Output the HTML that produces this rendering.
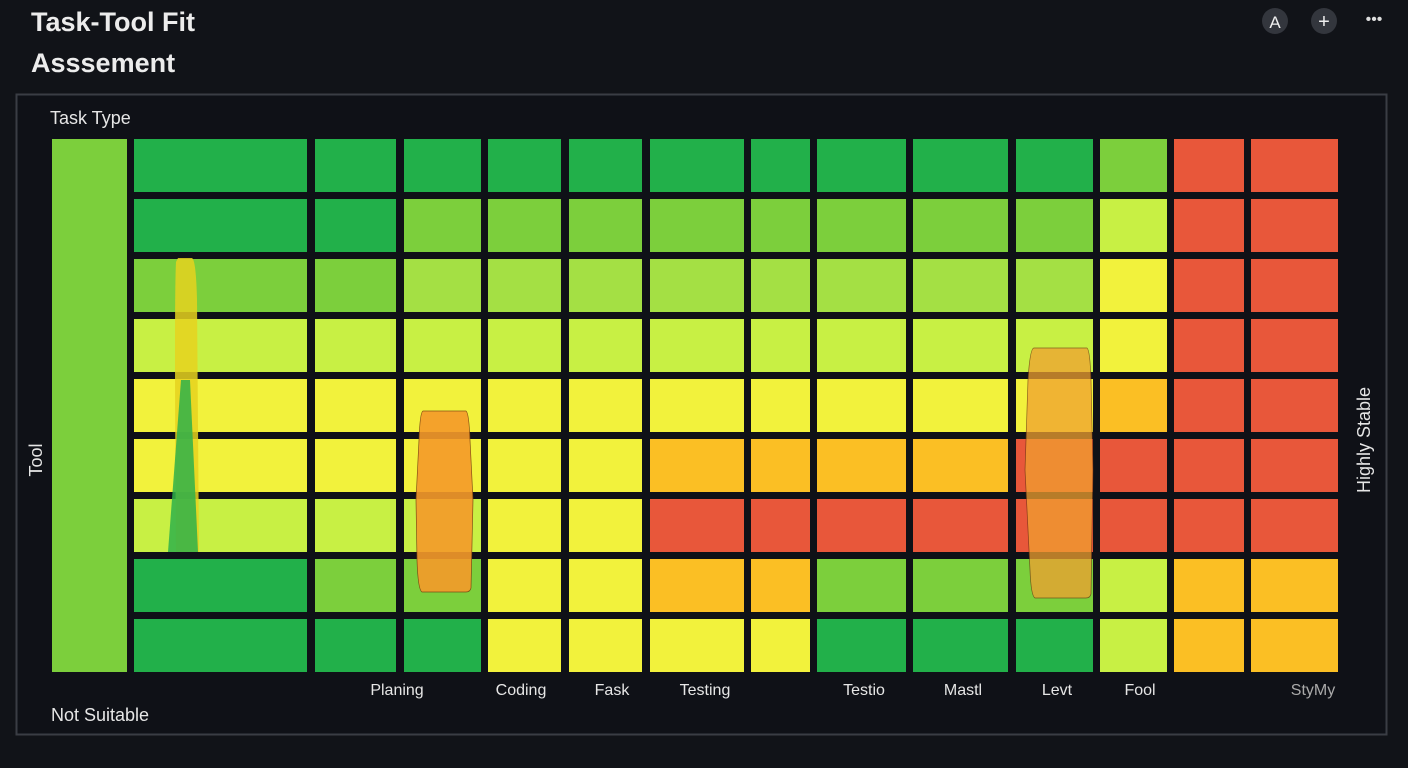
<!DOCTYPE html>
<html><head><meta charset="utf-8"><style>
html,body{margin:0;padding:0;background:#111318;width:1408px;height:768px;overflow:hidden;font-family:"Liberation Sans","DejaVu Sans",sans-serif;}
</style></head><body>
<svg width="1408" height="768" xmlns="http://www.w3.org/2000/svg">
<rect width="1408" height="768" fill="#111318"/>
<text x="31" y="31" fill="#ececec" font-size="27" font-weight="bold">Task-Tool Fit</text>
<text x="31" y="72" fill="#ececec" font-size="27" font-weight="bold">Asssement</text>
<circle cx="1275" cy="21" r="13" fill="#33363d"/><text x="1275" y="28" fill="#eee" font-size="17" text-anchor="middle">A</text>
<circle cx="1324" cy="21" r="13" fill="#33363d"/><text x="1324" y="28" fill="#eee" font-size="20" text-anchor="middle">+</text>
<text x="1374" y="24" fill="#ddd" font-size="16" text-anchor="middle">•••</text>
<rect x="16.5" y="94.5" width="1370" height="640" fill="#0f1117" stroke="#3a3d44" stroke-width="2"/>
<text x="50" y="124" fill="#e6e6e6" font-size="18">Task Type</text>
<text x="51" y="721" fill="#e6e6e6" font-size="18">Not Suitable</text>
<text transform="translate(42,460) rotate(-90)" fill="#e6e6e6" font-size="18" text-anchor="middle">Tool</text>
<text transform="translate(1370,440) rotate(-90)" fill="#e6e6e6" font-size="18" text-anchor="middle">Highly Stable</text>
<rect x="52" y="139" width="75" height="533" fill="#7ccf3c"/>
<g id="g"></g>
<g font-size="16" fill="#e6e6e6" text-anchor="middle">
<text x="397" y="695">Planing</text><text x="521" y="695">Coding</text><text x="612" y="695">Fask</text><text x="705" y="695">Testing</text><text x="864" y="695">Testio</text><text x="963" y="695">Mastl</text><text x="1057" y="695">Levt</text><text x="1140" y="695">Fool</text><text x="1313" y="695" fill="#aaa">StyMy</text>
</g>
<path d="M178,258 L192,258 Q196,260 197,300 L199,552 L176,552 Q174,300 176,262 Z" fill="#e6d21e" opacity="0.85"/>
<path d="M181,380 L190,380 L198,552 L168,552 Z" fill="#2fb24a" opacity="0.85"/>
<path d="M423,411 L466,411 Q469,413 470,440 L473,500 L471,588 Q470,592 466,592 L422,592 Q418,590 417,560 L416,500 L419,440 Q420,412 423,411 Z" fill="#f59a2a" opacity="0.9" stroke="#7a4010" stroke-width="0.7"/>
<path d="M1034,348 L1087,348 Q1090,350 1091,380 L1093,470 L1091,594 Q1090,598 1086,598 L1035,598 Q1031,596 1030,570 L1025,470 L1028,380 Q1030,348 1034,348 Z" fill="#f0a030" opacity="0.75" stroke="#6a3010" stroke-width="0.7"/>
</svg>
<script>
const xs=[[134,307],[315,396],[404,481],[488,561],[569,642],[650,744],[751,810],[817,906],[913,1008],[1016,1093],[1100,1167],[1174,1244],[1251,1338]];
const ys=[139,199,259,319,379,439,499,559,619];
const C={G:"#22b04a",M:"#7ccf3c",A:"#a4e044",B:"#c8f044",Y:"#f2f23c",O:"#fbbf24",R:"#e8573a"};
const rows=["GGGGGGGGGGMRR","GGMMMMMMMMBRR","MMAAAAAAAAYRR","BBBBBBBBBBYRR","YYYYYYYYYYORR","YYYYYOOOORRRR","BBBYYRRRRRRRR","GMMYYOOMMMBOO","GGGYYYYGGGBOO"];
let s="";
rows.forEach((r,i)=>{for(let j=0;j<13;j++){s+=`<rect x="${xs[j][0]}" y="${ys[i]}" width="${xs[j][1]-xs[j][0]}" height="53" fill="${C[r[j]]}"/>`;}});
document.getElementById("g").innerHTML=s;
</script>
</body></html>
